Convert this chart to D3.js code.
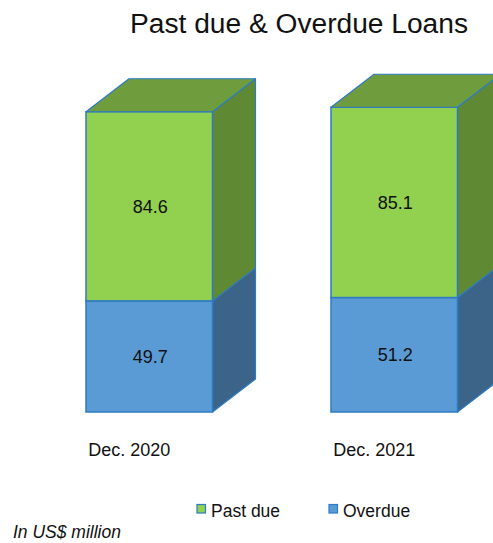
<!DOCTYPE html>
<html>
<head>
<meta charset="utf-8">
<script src="https://cdn.jsdelivr.net/npm/d3@7"></script>
<style>
html,body{margin:0;padding:0;background:#fff;}
svg{display:block;font-family:"Liberation Sans",Arial,sans-serif;}
</style>
</head>
<body>
<svg id="chart" width="493" height="543"></svg>
<script>
const categories = ["Dec. 2020", "Dec. 2021"];
const seriesNames = ["Overdue", "Past due"];
const overdue = [49.7, 51.2];
const pastDue = [84.6, 85.1];
const legendLabels = ["Past due", "Overdue"];

const svg = d3.select("#chart");

const x = d3.scaleBand().domain(categories).range([86, 457.5]).paddingInner(0.4837).paddingOuter(0);
const y = d3.scaleLinear().domain([0, 140]).range([412, 99]);
const dx = 43, dy = -33;

const colors = {
  "Overdue": {front: "#5B9BD5", side: "#3B6488", top: "#4A7FB0"},
  "Past due": {front: "#92D050", side: "#5F8A33", top: "#6F9D3D"}
};
const edge = "#2E7BC4";

const data = categories.map((c, i) => ({cat: c, vals: [overdue[i], pastDue[i]]}));
const stackData = data.map(d => {
  let acc = 0;
  return {cat: d.cat, segs: d.vals.map((v, j) => { const s = {name: seriesNames[j], v, y0: acc, y1: acc + v}; acc += v; return s; })};
});

const g = svg.append("g");
stackData.forEach(bar => {
  const x0 = x(bar.cat), x1 = x0 + x.bandwidth();
  const bg = g.append("g");
  bar.segs.forEach((s, j) => {
    const yb = y(s.y0), yt = y(s.y1);
    const c = colors[s.name];
    bg.append("polygon")
      .attr("points", [[x1, yb], [x1 + dx, yb + dy], [x1 + dx, yt + dy], [x1, yt]].map(p => p.join(",")).join(" "))
      .attr("fill", c.side).attr("stroke", edge).attr("stroke-width", 1.2).attr("stroke-linejoin", "round");
    bg.append("rect")
      .attr("x", x0).attr("y", yt).attr("width", x1 - x0).attr("height", yb - yt)
      .attr("fill", c.front).attr("stroke", edge).attr("stroke-width", 1.5);
    if (j === bar.segs.length - 1) {
      bg.append("polygon")
        .attr("points", [[x0, yt], [x0 + dx, yt + dy], [x1 + dx, yt + dy], [x1, yt]].map(p => p.join(",")).join(" "))
        .attr("fill", c.top).attr("stroke", edge).attr("stroke-width", 1.2).attr("stroke-linejoin", "round");
    }
    bg.append("text")
      .attr("x", (x0 + x1) / 2 + 1).attr("y", (yb + yt) / 2 + 6.5)
      .attr("text-anchor", "middle").attr("font-size", 18).attr("fill", "#111")
      .text(s.v.toFixed(1));
  });
});

svg.append("g").selectAll("text").data(categories).join("text")
  .attr("x", d => x(d) + x.bandwidth() / 2 - 20)
  .attr("y", 456)
  .attr("text-anchor", "middle").attr("font-size", 18).attr("fill", "#111")
  .text(d => d);

svg.append("text")
  .attr("x", 130).attr("y", 33)
  .attr("font-size", 27).attr("fill", "#111")
  .attr("textLength", 338).attr("lengthAdjust", "spacingAndGlyphs")
  .text("Past due & Overdue Loans");

const legX = [197, 329];
const lg = svg.append("g");
legendLabels.forEach((name, i) => {
  lg.append("rect").attr("x", legX[i]).attr("y", 504.5).attr("width", 8.5).attr("height", 8.5)
    .attr("fill", colors[name].front).attr("stroke", edge).attr("stroke-width", 1.2);
  lg.append("text").attr("x", legX[i] + 14).attr("y", 517).attr("font-size", 17.5).attr("fill", "#111").text(name);
});

svg.append("text").attr("x", 13).attr("y", 538).attr("font-size", 17.5).attr("font-style", "italic")
  .attr("fill", "#111").text("In US$ million");
</script>
</body>
</html>
